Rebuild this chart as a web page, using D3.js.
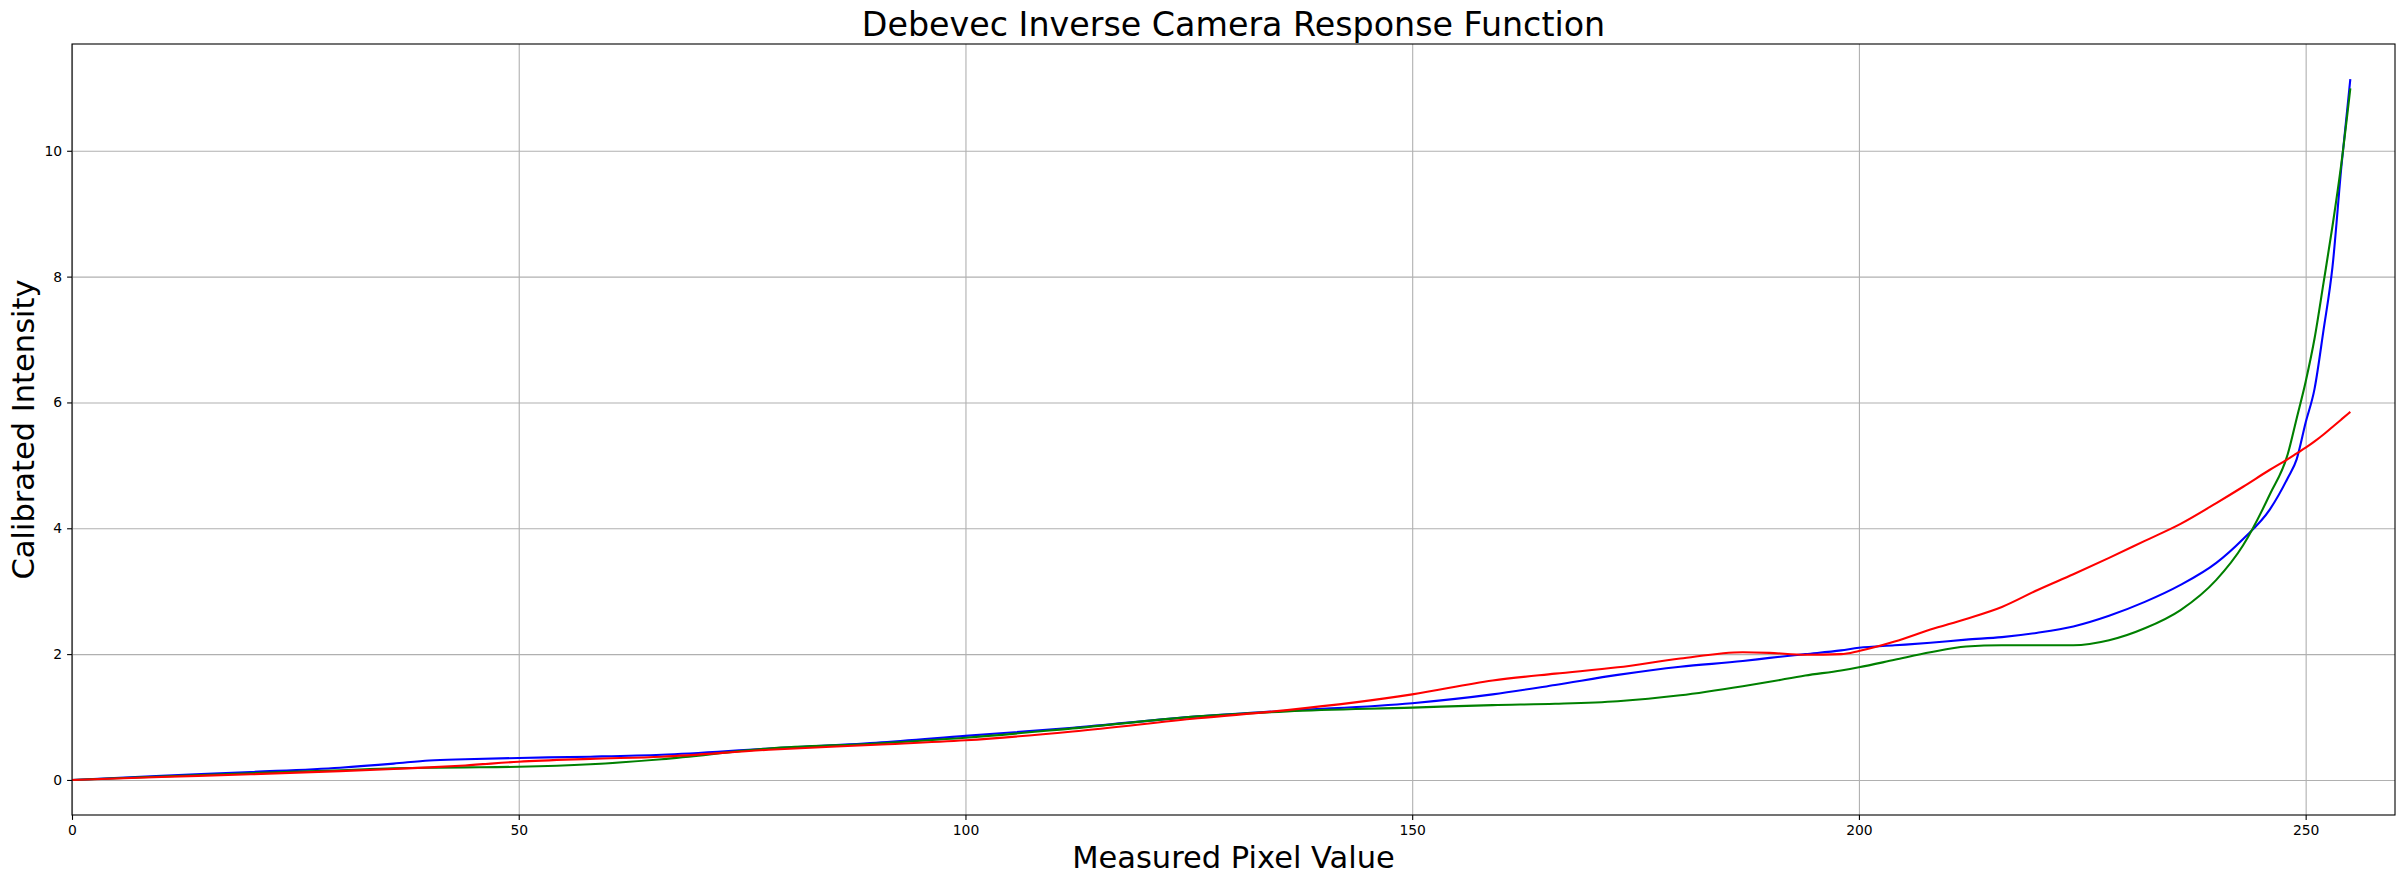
<!DOCTYPE html>
<html>
<head>
<meta charset="utf-8">
<script src="https://d3js.org/d3.v7.min.js"></script>
<style>
  body { margin: 0; background: #fff; }
  text { font-family: "DejaVu Sans", sans-serif; fill: #000; }
  .grid line { stroke: #b0b0b0; stroke-width: 1.1; }
  .grid path { display: none; }
  .axis path, .axis line { stroke: #000; stroke-width: 1.1; }
  .axis text { font-size: 13.9px; }
</style>
</head>
<body>
<div id="chart-area"></div>
<script>
const pixelValues = [0, 10, 20, 30, 36, 40, 44, 50, 58, 66, 78, 90, 100, 112, 126, 136, 150, 159, 166, 173,
    180, 187, 190, 194, 198, 200, 204, 208, 212, 216, 220, 224, 228, 232, 236, 240, 243, 246, 248, 249,
    250, 251, 252, 253, 254, 255];

const blueValues = [0.0, 0.065, 0.127, 0.195, 0.26, 0.31, 0.33, 0.35, 0.37, 0.40, 0.50, 0.59, 0.70, 0.83, 1.01, 1.10, 1.22, 1.36, 1.51, 1.67,
    1.80, 1.89, 1.94, 2.0, 2.06, 2.10, 2.14, 2.18, 2.23, 2.27, 2.34, 2.44, 2.61, 2.83, 3.10, 3.45, 3.83, 4.30, 4.80, 5.10,
    5.68, 6.22, 7.15, 8.15, 9.75, 11.14];

const greenValues = [0.0, 0.055, 0.106, 0.154, 0.185, 0.195, 0.20, 0.21, 0.25, 0.33, 0.50, 0.58, 0.67, 0.82, 1.01, 1.09, 1.15, 1.19, 1.21, 1.25,
    1.345, 1.49, 1.56, 1.66, 1.74, 1.79, 1.91, 2.03, 2.12, 2.14, 2.14, 2.14, 2.22, 2.41, 2.70, 3.18, 3.73, 4.54, 5.18, 5.75,
    6.33, 7.02, 7.90, 8.80, 9.80, 10.99];

const redValues = [0.0, 0.046, 0.09, 0.14, 0.175, 0.20, 0.23, 0.29, 0.335, 0.37, 0.48, 0.56, 0.63, 0.77, 0.98, 1.11, 1.36, 1.58, 1.69, 1.79,
    1.93, 2.03, 2.02, 1.99, 2.0, 2.05, 2.20, 2.39, 2.56, 2.75, 3.02, 3.27, 3.53, 3.80, 4.07, 4.40, 4.66, 4.93, 5.10, 5.19,
    5.28, 5.38, 5.49, 5.61, 5.73, 5.85];

const xTicks = [0, 50, 100, 150, 200, 250];
const yTicks = [0, 2, 4, 6, 8, 10];

const channels = [
    {name: "b", color: "blue", values: blueValues},
    {name: "g", color: "green", values: greenValues},
    {name: "r", color: "red", values: redValues}
];

const chartSize = {width: 2406, height: 882};
const margin = {left: 72, right: 11, top: 44, bottom: 67};
const width = chartSize.width - margin.left - margin.right;
const height = chartSize.height - margin.top - margin.bottom;

const drawChart = () => {
    const allValues = channels.flatMap(c => c.values);
    const yMin = d3.min(allValues), yMax = d3.max(allValues);
    const pad = (yMax - yMin) * 0.05;

    const x = d3.scaleLinear().domain([0, 260]).range([0, width]);
    const y = d3.scaleLinear().domain([yMin - pad, yMax + pad]).range([height, 0]);

    const svg = d3.select("#chart-area")
        .append("svg")
        .attr("width", chartSize.width)
        .attr("height", chartSize.height);

    const g = svg.append("g").attr("transform", `translate(${margin.left}, ${margin.top})`);

    // grid
    g.append("g")
        .attr("class", "grid")
        .attr("transform", `translate(0, ${height})`)
        .call(d3.axisBottom(x).tickValues(xTicks).tickSize(-height).tickFormat(""));
    g.append("g")
        .attr("class", "grid")
        .call(d3.axisLeft(y).tickValues(yTicks).tickSize(-width).tickFormat(""));

    const line = d3.line()
        .x((d, i) => x(pixelValues[i]))
        .y(d => y(d))
        .curve(d3.curveMonotoneX);

    g.selectAll(".curve")
        .data(channels)
        .enter()
        .append("path")
        .attr("class", "curve")
        .attr("fill", "none")
        .attr("stroke", c => c.color)
        .attr("stroke-width", 2.1)
        .attr("stroke-linejoin", "round")
        .attr("d", c => line(c.values));

    // frame
    g.append("rect")
        .attr("width", width)
        .attr("height", height)
        .attr("fill", "none")
        .attr("stroke", "#000")
        .attr("stroke-width", 1.1);

    const xAxis = g.append("g")
        .attr("class", "axis")
        .attr("transform", `translate(0, ${height})`)
        .call(d3.axisBottom(x).tickValues(xTicks).tickSize(4.9).tickPadding(4.9).tickFormat(d3.format("d")));
    xAxis.select(".domain").remove();

    const yAxis = g.append("g")
        .attr("class", "axis")
        .call(d3.axisLeft(y).tickValues(yTicks).tickSize(4.9).tickPadding(4.9).tickFormat(d3.format("d")));
    yAxis.select(".domain").remove();

    svg.append("text")
        .attr("x", margin.left + width / 2)
        .attr("y", 36)
        .attr("text-anchor", "middle")
        .style("font-size", "33.3px")
        .text("Debevec Inverse Camera Response Function");

    svg.append("text")
        .attr("x", margin.left + width / 2)
        .attr("y", 868)
        .attr("text-anchor", "middle")
        .style("font-size", "30.5px")
        .text("Measured Pixel Value");

    svg.append("text")
        .attr("transform", `translate(34, ${margin.top + height / 2}) rotate(-90)`)
        .attr("text-anchor", "middle")
        .style("font-size", "30.5px")
        .text("Calibrated Intensity");
};

window.onload = drawChart;
</script>
</body>
</html>
